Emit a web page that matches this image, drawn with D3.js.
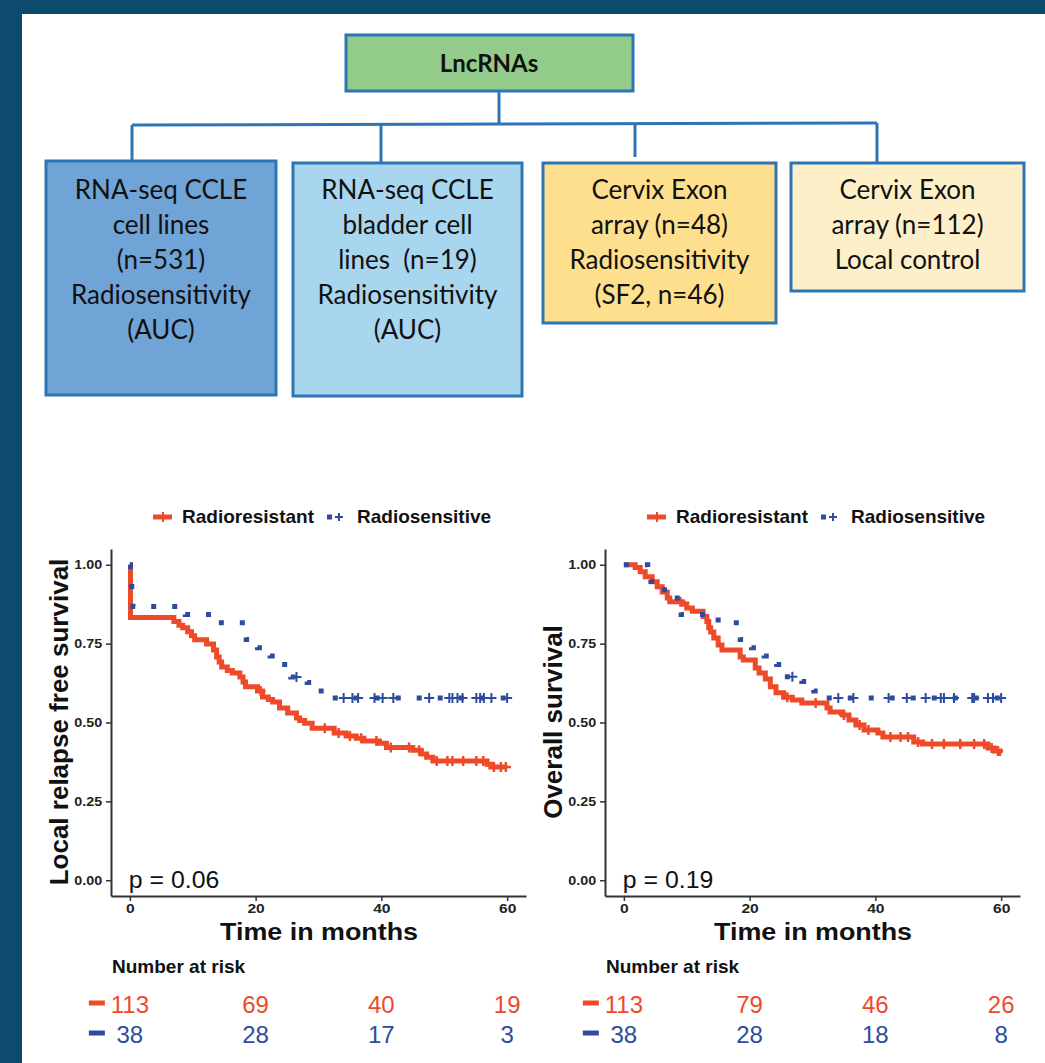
<!DOCTYPE html>
<html>
<head>
<meta charset="utf-8">
<script src="https://cdn.jsdelivr.net/npm/d3@7"></script>
<style>
  body { margin: 0; background: #0c4a6e; }
  svg { display: block; }
  text { white-space: pre; }
</style>
</head>
<body>
<svg id="fig" width="1045" height="1063"></svg>
<script>
// ---- flowchart text ----
const rootLabel = "LncRNAs"
const boxLines = [
  ["RNA-seq CCLE", "cell lines", "(n=531)", "Radiosensitivity", "(AUC)"],
  ["RNA-seq CCLE", "bladder cell", "lines  (n=19)", "Radiosensitivity", "(AUC)"],
  ["Cervix Exon", "array (n=48)", "Radiosensitivity", "(SF2, n=46)"],
  ["Cervix Exon", "array (n=112)", "Local control"]
]

// ---- survival plots ----
const groups = ["Radioresistant", "Radiosensitive"]
const xTicks = [0, 20, 40, 60]
const yTicks = [0, 0.25, 0.5, 0.75, 1]
const riskTimes = [0, 20, 40, 60]

// [month, survival] where each step starts
const lrfsResistant = [[0,1],[0.1,0.833],[7.0,0.82],[7.8,0.808],[8.4,0.80],[9.2,0.788],[9.8,0.775],[10.3,0.762],
  [12.2,0.749],[13.3,0.73],[13.8,0.708],[14.2,0.692],[14.6,0.676],[15.5,0.665],[16.3,0.657],[17.5,0.644],
  [18.0,0.628],[18.4,0.613],[20.3,0.60],[21.1,0.581],[22.0,0.573],[22.7,0.565],[23.8,0.546],[25.1,0.53],
  [26.5,0.514],[27.0,0.506],[27.8,0.498],[29.0,0.482],[32.5,0.467],[34.4,0.457],[36.0,0.45],[37.2,0.441],
  [39.7,0.434],[40.8,0.421],[45.0,0.412],[46.3,0.40],[47.2,0.39],[48.2,0.378],[56.8,0.368],[57.4,0.359],[60,0.359]]
const lrfsResistantCensor = [20.8, 31.0, 33.2, 35.0, 36.8, 39.2, 41.5, 44.4, 46.0, 48.8, 50.5, 51.3, 53.0, 55.1, 56.2, 57.9, 59.0, 59.8]
const lrfsSensitive = [[0,1],[0.1,0.974],[0.2,0.947],[0.3,0.921],[0.4,0.895],[0.5,0.868],[8.8,0.842],[14.0,0.816],
  [18.3,0.789],[18.5,0.763],[20.3,0.737],[22.3,0.711],[24.2,0.684],[25.6,0.644],[28.2,0.627],[30.0,0.60],
  [31.8,0.578],[60,0.578]]
const lrfsSensitiveCensor = [26.5, 34.0, 35.4, 36.3, 38.9, 40.2, 41.9, 47.6, 50.8, 51.3, 52.1, 52.9, 55.1, 55.7, 56.3, 57.5, 60.0]

const osResistant = [[0,1],[1.8,0.991],[2.6,0.978],[3.4,0.962],[4.5,0.946],[5.3,0.93],[6.1,0.914],[6.9,0.895],
  [7.3,0.883],[9.3,0.876],[10.0,0.863],[10.9,0.853],[12.6,0.836],[13.2,0.82],[13.5,0.80],[13.8,0.787],
  [14.3,0.768],[15.0,0.746],[15.6,0.73],[18.5,0.708],[19.0,0.698],[20.9,0.673],[21.5,0.657],[22.5,0.638],
  [23.3,0.613],[24.2,0.594],[25.4,0.58],[26.8,0.571],[28.3,0.562],[32.3,0.546],[32.8,0.533],[34.8,0.524],
  [35.8,0.508],[36.9,0.492],[38.2,0.476],[40.4,0.467],[41.2,0.454],[46.1,0.438],[47.5,0.432],[57.9,0.419],
  [58.9,0.41],[59.8,0.402],[60,0.402]]
const osResistantCensor = [9.0, 26.0, 30.5, 35.0, 37.5, 38.9, 42.4, 44.0, 45.2, 46.8, 49.0, 50.9, 53.5, 55.7, 57.3, 58.5, 59.5]
const osSensitive = [[0,1],[3.8,0.974],[4.3,0.947],[5.5,0.921],[7.5,0.895],[9.0,0.868],[9.1,0.842],[14.5,0.825],
  [17.0,0.816],[18.3,0.789],[18.5,0.763],[20.3,0.737],[22.3,0.711],[24.3,0.684],[25.6,0.645],[28.3,0.63],
  [30.2,0.60],[32.0,0.578],[60,0.578]]
const osSensitiveCensor = [26.8, 34.1, 36.5, 42.1, 45.0, 48.0, 50.4, 50.9, 52.5, 55.4, 55.7, 57.9, 58.7, 60.0]

const lrfsRiskResistant = [113, 69, 40, 19]
const lrfsRiskSensitive = [38, 28, 17, 3]
const osRiskResistant = [113, 79, 46, 26]
const osRiskSensitive = [38, 28, 18, 8]

const RED = "#ee4a2a", BLUE = "#2e4c9e", EDGE = "#2e75b6"
const svg = d3.select("#fig")

// frame
svg.append("rect").attr("width", 1045).attr("height", 1063).attr("fill", "#0c4a6e")
svg.append("rect").attr("x", 22).attr("y", 14).attr("width", 1023).attr("height", 1049).attr("fill", "#fff")

// ---- flowchart ----
const fc = svg.append("g").attr("font-family", "Lato, 'Open Sans', sans-serif").attr("fill", "#111")
const link = d3.line()
const links = [
  [[499, 91], [499, 124]],
  [[132, 125], [877, 123]],
  [[132, 125], [132, 161]],
  [[381, 124], [381, 162]],
  [[635, 123], [635, 157]],
  [[877, 123], [877, 162]]
]
fc.selectAll("path.link").data(links).join("path")
  .attr("class", "link").attr("d", link)
  .attr("fill", "none").attr("stroke", EDGE).attr("stroke-width", 3)

fc.append("rect").attr("x", 346).attr("y", 35).attr("width", 287).attr("height", 56)
  .attr("fill", "#93cb8a").attr("stroke", EDGE).attr("stroke-width", 3)
fc.append("text").attr("x", 489).attr("y", 72).attr("text-anchor", "middle")
  .attr("font-weight", "bold").attr("font-size", 24).text(rootLabel)

const boxGeom = [[46, 161, 230, 234, "#70a4d6"], [293, 163, 229, 233, "#a9d6ef"],
                 [543, 163, 233, 160, "#fedf8e"], [791, 163, 233, 128, "#fdf0c9"]]
boxGeom.forEach(([bx, by, bw, bh, fill], i) => {
  fc.append("rect").attr("x", bx).attr("y", by).attr("width", bw).attr("height", bh)
    .attr("fill", fill).attr("stroke", EDGE).attr("stroke-width", 3)
  fc.append("g").selectAll("text").data(boxLines[i]).join("text")
    .attr("x", bx + bw / 2).attr("y", (d, j) => 199 + j * 35)
    .attr("text-anchor", "middle").attr("font-size", 26)
    .text(d => d)
})

// ---- Kaplan-Meier panels ----
function stepAt(steps, t) {
  let v = steps[0][1]
  for (const s of steps) if (s[0] <= t) v = s[1]
  return v
}

function drawKM(cfg) {
  const g = svg.append("g").attr("font-family", "'Liberation Sans', Arial, sans-serif")
  const x = d3.scaleLinear().domain([-3, 63]).range([cfg.left, cfg.left + 415])
  const y = d3.scaleLinear().domain([-0.05, 1.05]).range([896, 549])

  const xAxis = g.append("g").attr("transform", "translate(0,896)")
    .call(d3.axisBottom(x).tickValues(xTicks).tickSize(5).tickSizeOuter(0).tickPadding(3))
  const yAxis = g.append("g").attr("transform", `translate(${cfg.left},0)`)
    .call(d3.axisLeft(y).tickValues(yTicks).tickFormat(d3.format(".2f")).tickSize(5).tickSizeOuter(0).tickPadding(3))
  for (const ax of [xAxis, yAxis]) {
    ax.select(".domain").attr("stroke", "#333").attr("stroke-width", 2)
    ax.selectAll(".tick line").attr("stroke", "#333").attr("stroke-width", 1.5)
    ax.selectAll(".tick text").attr("fill", "#222").attr("font-weight", "bold").attr("font-size", 13)
      .attr("font-family", "'Liberation Sans', Arial, sans-serif")
  }
  yAxis.selectAll(".tick text").attr("transform", "scale(1.1,1)")
  xAxis.selectAll(".tick text").attr("transform", "scale(1.2,1)")

  g.append("text").attr("transform", `translate(${cfg.left - 43},722) rotate(-90)`)
    .attr("text-anchor", "middle").attr("font-size", 26).attr("font-weight", "bold").attr("fill", "#111")
    .text(cfg.yLabel)
  g.append("text").attr("transform", `translate(${cfg.left + 208},940) scale(1.12,1)`)
    .attr("text-anchor", "middle").attr("font-size", 24).attr("font-weight", "bold").attr("fill", "#111")
    .text("Time in months")

  const line = d3.line().x(d => x(d[0])).y(d => y(d[1])).curve(d3.curveStepAfter)
  const plus = "M-5,0H5M0,-5V5"

  g.append("path").datum(cfg.resist).attr("d", line)
    .attr("fill", "none").attr("stroke", RED).attr("stroke-width", 5)
  g.append("g").selectAll("path").data(cfg.resistCensor).join("path")
    .attr("transform", t => `translate(${x(t)},${y(stepAt(cfg.resist, t))})`)
    .attr("d", plus).attr("stroke", RED).attr("stroke-width", 2.5)

  g.append("path").datum(cfg.sens).attr("d", line)
    .attr("fill", "none").attr("stroke", BLUE).attr("stroke-width", 5)
    .attr("stroke-dasharray", "5 16")
  g.append("g").selectAll("path").data(cfg.sensCensor).join("path")
    .attr("transform", t => `translate(${x(t)},${y(stepAt(cfg.sens, t))})`)
    .attr("d", plus).attr("stroke", BLUE).attr("stroke-width", 2)

  // p-value
  g.append("text").attr("transform", `translate(${x(0) - 1},888) scale(1.08,1)`)
    .attr("font-size", 23).attr("fill", "#111").text(cfg.p)

  // legend
  const lx = cfg.left + 42
  g.append("line").attr("x1", lx).attr("x2", lx + 19).attr("y1", 517).attr("y2", 517)
    .attr("stroke", RED).attr("stroke-width", 5)
  g.append("path").attr("transform", `translate(${lx + 10},517)`).attr("d", plus)
    .attr("stroke", RED).attr("stroke-width", 2)
  g.append("rect").attr("x", lx + 174).attr("y", 514.5).attr("width", 5).attr("height", 5).attr("fill", BLUE)
  g.append("path").attr("transform", `translate(${lx + 186},517)`).attr("d", "M-4,0H4M0,-4V4")
    .attr("stroke", BLUE).attr("stroke-width", 2)
  g.selectAll("text.leg").data(groups).join("text").attr("class", "leg")
    .attr("x", (d, i) => lx + 29 + i * 175).attr("y", 523)
    .attr("font-size", 19).attr("font-weight", "bold").attr("fill", "#111")
    .text(d => d)

  // risk table
  g.append("text").attr("x", cfg.left + 1).attr("y", 973)
    .attr("font-size", 19).attr("font-weight", "bold").attr("fill", "#111").text("Number at risk")
  const rows = [[cfg.riskR, RED, 1013], [cfg.riskS, BLUE, 1043]]
  rows.forEach(([vals, col, base]) => {
    g.append("rect").attr("x", x(0) - 41).attr("y", base - 12.5).attr("width", 16).attr("height", 5).attr("fill", col)
    g.append("g").selectAll("text").data(vals).join("text")
      .attr("x", (d, i) => x(riskTimes[i])).attr("y", base)
      .attr("text-anchor", "middle").attr("font-size", 24).attr("fill", col)
      .text(d => d)
  })
}

drawKM({
  left: 111, yLabel: "Local relapse free survival", p: "p = 0.06",
  resist: lrfsResistant, resistCensor: lrfsResistantCensor,
  sens: lrfsSensitive, sensCensor: lrfsSensitiveCensor,
  riskR: lrfsRiskResistant, riskS: lrfsRiskSensitive
})
drawKM({
  left: 605, yLabel: "Overall survival", p: "p = 0.19",
  resist: osResistant, resistCensor: osResistantCensor,
  sens: osSensitive, sensCensor: osSensitiveCensor,
  riskR: osRiskResistant, riskS: osRiskSensitive
})
</script>
</body>
</html>
